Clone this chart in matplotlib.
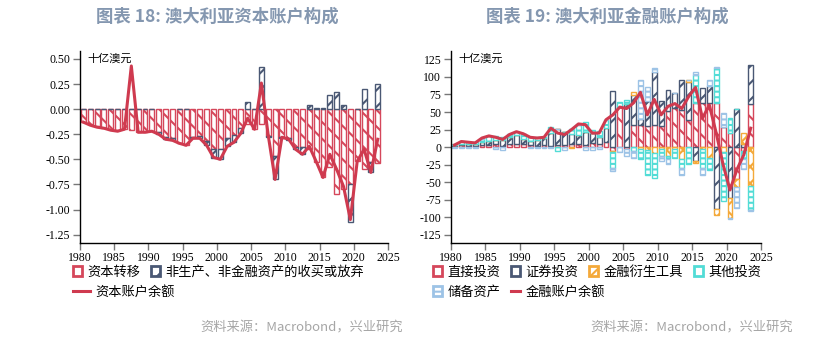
import numpy as np
import matplotlib
matplotlib.use("Agg")
import matplotlib.pyplot as plt
from matplotlib.patches import Patch
from matplotlib.lines import Line2D

plt.rcParams['font.family'] = ['Noto Sans CJK SC', 'DejaVu Sans']
plt.rcParams['hatch.linewidth'] = 1.5
plt.rcParams['axes.unicode_minus'] = False

years = np.arange(1980, 2024)

# 图表18: 资本账户 (十亿澳元)
cap_transfer = [-0.13, -0.15, -0.17, -0.19, -0.20, -0.21, -0.20, -0.21, -0.23, -0.23,
                -0.22, -0.23, -0.28, -0.29, -0.34, -0.36, -0.28, -0.27, -0.32, -0.40,
                -0.40, -0.29, -0.26, -0.19, -0.15, -0.20, -0.15, -0.27, -0.47, -0.28,
                -0.29, -0.38, -0.38, -0.40, -0.53, -0.68, -0.58, -0.85, -0.80, -0.75,
                -0.52, -0.60, -0.53, -0.54]
cap_nonprod = [0, 0, 0, 0, 0, 0, 0, 0, 0, 0.005,
               0, -0.02, -0.02, -0.02, 0, 0, -0.01, -0.02, -0.04, -0.09,
               -0.10, -0.08, -0.07, -0.05, 0.07, 0, 0.42, -0.01, -0.23, -0.01,
               -0.02, -0.02, -0.07, 0.04, 0.01, 0.01, 0.14, 0.17, 0.04, -0.37,
               0, 0.20, -0.10, 0.25]
cap_balance = [-0.13, -0.16, -0.18, -0.19, -0.21, -0.22, -0.20, 0.43, -0.23, -0.23,
               -0.22, -0.25, -0.30, -0.31, -0.34, -0.36, -0.29, -0.29, -0.36, -0.48,
               -0.50, -0.37, -0.33, -0.24, -0.09, -0.20, 0.26, -0.26, -0.70, -0.28,
               -0.30, -0.40, -0.45, -0.37, -0.52, -0.68, -0.45, -0.60, -0.77, -1.10,
               -0.52, -0.40, -0.63, -0.30]

# 图表19: 金融账户 (十亿澳元)
fa_direct = [2, 3, 2, 2, 3, 3, 4, 2, 4, 5,
             4, 3, 2, 3, 2, 3, 3, 4, 5, 3,
             6, 5, 7, -5, 57, -3, 32, 32, 30, 32,
             30, 51, 55, 53, 39, 63, 63, 63, 63, 29,
             20, -45, -5, 61]
fa_portfolio = [1, 2, 3, 2, 4, 6, 6, 8, 10, 12,
                8, 6, 8, 10, 18, 23, 18, 14, 12, 18,
                14, 10, 20, 80, 0, 62, 42, 8, 35, 75,
                36, 31, 22, 42, 54, -20, 21, 24, -88, 0,
                -73, 54, 5, 56]
fa_deriv = [0, 0, 0, 0, 0, 0, 0, 0, 0, 0,
            0, 0, 0, 0, 0, 0, 1, -1, 0, 1,
            0, 0, 0, -2, 0, 0, 4, -2, -4, -8,
            -2, -12, -3, -17, 3, -2, -2, -15, -9, -7,
            -28, -12, 15, -56]
fa_other = [1, 4, 3, 3, 5, 7, 6, 5, 4, 5,
            7, 6, 4, 2, 8, -6, 0, 8, 15, 14,
            4, 8, 12, -22, 7, 5, -5, -15, -35, -36,
            -10, -5, -12, -13, -24, 40, -28, -18, 49, -69,
            21, 0, -12, -33]
fa_reserve = [-1, -1, -1, -1, 1, 0, -2, -4, 0, 0,
              0, -1, -1, -1, -1, 0, -4, 0, 1, -4,
              -4, -3, 0, -5, -7, -9, -10, 55, 20, 5,
              -8, -7, 0, -10, 0, 4, -10, 9, 2, 19,
              -2, -30, -14, -2]
fa_balance = [3, 8, 7, 6, 13, 16, 14, 11, 18, 22,
              19, 14, 13, 14, 27, 20, 18, 25, 33, 32,
              20, 20, 39, 46, 57, 55, 63, 78, 46, 68,
              46, 58, 62, 55, 72, 85, 41, 60, 20, -25,
              -61, -32, -11, 27]

red = '#D5475B'
navy = '#4A5874'
orange = '#F4A93A'
cyan = '#52DCD6'
lblue = '#9DC3E6'
line_red = '#CF3A4F'


def stack_bars(ax, series):
    pos = np.zeros(len(years))
    neg = np.zeros(len(years))
    for vals, color, hatch in series:
        v = np.array(vals, dtype=float)
        bottom = np.where(v >= 0, pos, neg)
        ax.bar(years + 0.5, v, width=0.72, bottom=bottom, facecolor='white',
               edgecolor=color, hatch=hatch, linewidth=1.0, zorder=2)
        pos = pos + np.where(v > 0, v, 0)
        neg = neg + np.where(v < 0, v, 0)


def style_axes(ax, ylim, yticks, fmt):
    ax.set_xlim(1980, 2025)
    ax.set_ylim(*ylim)
    ax.set_xticks(range(1980, 2026, 5))
    ax.set_yticks(yticks)
    ax.set_yticklabels([fmt(t) for t in yticks])
    for s in ['top', 'right']:
        ax.spines[s].set_visible(False)
    for s in ['left', 'bottom']:
        ax.spines[s].set_color('black')
        ax.spines[s].set_linewidth(1.0)
    ax.tick_params(axis='both', direction='out', length=5, width=1, color='#777777',
                   labelsize=8.5, pad=2)
    for lab in ax.get_xticklabels() + ax.get_yticklabels():
        lab.set_fontfamily('Liberation Serif')
    ax.text(0.025, 0.985, '十亿澳元', transform=ax.transAxes, fontsize=8,
            va='top', ha='left')


fig = plt.figure(figsize=(8.31, 3.42), dpi=100)

# 左图
ax1 = fig.add_axes([80 / 831, 0.2904, 308 / 831, 0.5608])
stack_bars(ax1, [(cap_transfer, red, '\\\\'), (cap_nonprod, navy, '//')])
ax1.plot(years + 0.5, cap_balance, color=line_red, lw=2.2, zorder=3)
style_axes(ax1, (-1.33, 0.58), np.arange(-1.25, 0.51, 0.25), lambda t: f'{t:.2f}')

# 右图
ax2 = fig.add_axes([451 / 831, 0.2904, 310 / 831, 0.5608])
stack_bars(ax2, [(fa_direct, red, '\\\\'), (fa_portfolio, navy, '//'),
                 (fa_deriv, orange, 'xx'), (fa_other, cyan, '---'),
                 (fa_reserve, lblue, '---')])
ax2.plot(years + 0.5, fa_balance, color=line_red, lw=2.2, zorder=3)
style_axes(ax2, (-136, 137), np.arange(-125, 126, 25), lambda t: f'{t:d}')

# 标题
title_color = '#8497B0'
fig.text(217 / 831, 1 - 17 / 342, '图表 18: 澳大利亚资本账户构成', ha='center', va='center',
         fontsize=12.5, fontweight='bold', color=title_color)
fig.text(607 / 831, 1 - 17 / 342, '图表 19: 澳大利亚金融账户构成', ha='center', va='center',
         fontsize=12.5, fontweight='bold', color=title_color)

# 来源
src = '资料来源：Macrobond，兴业研究'
fig.text(403 / 831, 1 - 328 / 342, src, ha='right', va='center', fontsize=9.5, color='#A6A6A6')
fig.text(793 / 831, 1 - 328 / 342, src, ha='right', va='center', fontsize=9.5, color='#A6A6A6')


def sq(color, hatch):
    return Patch(facecolor='white', edgecolor=color, hatch=hatch, linewidth=2)


def ln():
    return Line2D([], [], color=line_red, lw=2.2)


leg_kw = dict(frameon=False, fontsize=9.5, borderpad=0, borderaxespad=0,
              handletextpad=0.4, columnspacing=0.8, handleheight=0.7)

fig.legend([sq(red, ''), sq(navy, '/')], ['资本转移', '非生产、非金融资产的收买或放弃'],
           loc='center left', bbox_to_anchor=(73 / 831, 1 - 272 / 342), ncol=2,
           handlelength=0.7, **leg_kw)
fig.legend([ln()], ['资本账户余额'],
           loc='center left', bbox_to_anchor=(73 / 831, 1 - 292 / 342), ncol=1,
           handlelength=1.3, **leg_kw)

fig.legend([sq(red, ''), sq(navy, '/'), sq(orange, 'x'), sq(cyan, '')],
           ['直接投资', '证券投资', '金融衍生工具', '其他投资'],
           loc='center left', bbox_to_anchor=(433 / 831, 1 - 272 / 342), ncol=4,
           handlelength=0.7, **leg_kw)
fig.legend([sq(lblue, '-'), ln()], ['储备资产', '金融账户余额'],
           loc='center left', bbox_to_anchor=(433 / 831, 1 - 292 / 342), ncol=2,
           handlelength=0.7, **leg_kw)

fig.savefig('out.png', dpi=100)
